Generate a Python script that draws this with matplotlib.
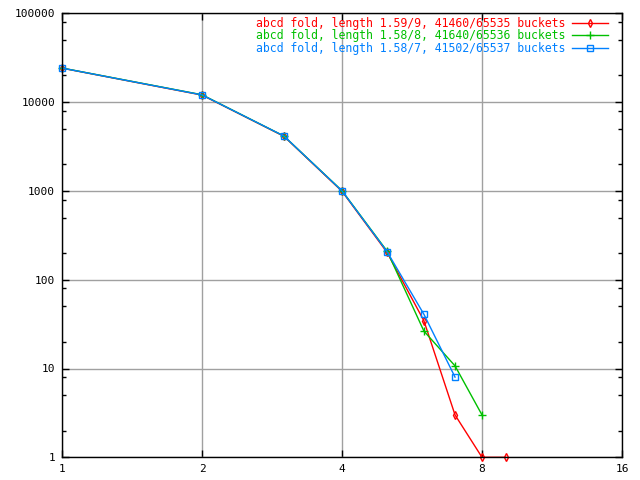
import matplotlib
matplotlib.use("Agg")
import matplotlib.pyplot as plt
from matplotlib.ticker import FixedLocator, NullFormatter, NullLocator

x_red = [1, 2, 3, 4, 5, 6, 7, 8, 9]
y_red = [24100, 12000, 4120, 990, 203, 34.5, 3, 1, 1]
x_green = [1, 2, 3, 4, 5, 6, 7, 8]
y_green = [24200, 12100, 4150, 1005, 210, 26.4, 10.7, 3]
x_blue = [1, 2, 3, 4, 5, 6, 7]
y_blue = [24150, 12050, 4150, 1000, 207, 40.8, 8]

labels = ["abcd fold, length 1.59/9, 41460/65535 buckets",
          "abcd fold, length 1.58/8, 41640/65536 buckets",
          "abcd fold, length 1.58/7, 41502/65537 buckets"]
xticks = [1, 2, 4, 8, 16]
yticks = [1, 10, 100, 1000, 10000, 100000]

mono = "DejaVu Sans Mono"
fig = plt.figure(figsize=(6.4, 4.8), dpi=100)
ax = fig.add_axes([62/640, 1-457.3/480, 560/640, 444/480])

ax.plot(x_red, y_red, color="#ff0000", lw=1, marker="d", ms=4, mfc="none", mew=1,
        label=labels[0], clip_on=False)
ax.plot(x_green, y_green, color="#00c000", lw=1, marker="+", ms=6, mew=1,
        label=labels[1], clip_on=False)
ax.plot(x_blue, y_blue, color="#0080ff", lw=1, marker="s", ms=5, mfc="none", mew=1,
        label=labels[2], clip_on=False)

ax.set_xscale("log", base=2)
ax.set_yscale("log")
ax.set_xlim(1, 16)
ax.set_ylim(1, 100000)
ax.xaxis.set_major_locator(FixedLocator(xticks))
ax.set_xticklabels([str(v) for v in xticks], fontfamily=mono, fontsize=8)
ax.xaxis.set_minor_locator(NullLocator())
ax.yaxis.set_major_locator(FixedLocator(yticks))
ax.set_yticklabels([str(v) for v in yticks], fontfamily=mono, fontsize=8)
minors = [m * 10**e for e in range(0, 5) for m in (2, 5, 8)]
ax.yaxis.set_minor_locator(FixedLocator(minors))
ax.yaxis.set_minor_formatter(NullFormatter())

ax.tick_params(which="major", direction="in", length=5, width=1, top=True, right=True, pad=5)
ax.tick_params(which="minor", direction="in", length=3, width=1, top=True, right=True)
ax.grid(True, which="major", color="#a0a0a0", lw=1)
for s in ax.spines.values():
    s.set_linewidth(1)
    s.set_color("black")

leg = ax.legend(loc="upper right", frameon=False, markerfirst=False,
                prop={"family": mono, "size": 8.3}, labelcolor="linecolor",
                handlelength=3.1, handletextpad=0.6, labelspacing=-0.05,
                borderpad=0, borderaxespad=0, bbox_to_anchor=(0.975, 0.992))

fig.savefig("out.png", dpi=100)
